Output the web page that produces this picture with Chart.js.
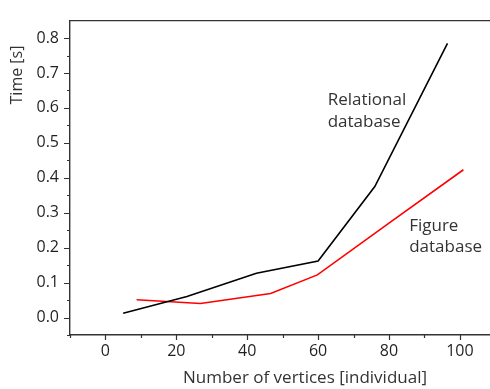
<!DOCTYPE html>
<html>
<head>
<meta charset="utf-8">
<script src="https://cdn.jsdelivr.net/npm/chart.js@4"></script>
<style>
  html, body { margin: 0; padding: 0; background: #fff; overflow: hidden; }
  #wrap { width: 490px; height: 389px; }
</style>
</head>
<body>
<div id="wrap"><canvas id="timeChart" width="490" height="389"></canvas></div>
<script>
// values
const relationalX = [5, 23, 42.6, 60, 76, 96.5];
const relationalY = [0.012, 0.06, 0.127, 0.162, 0.375, 0.785];
const figureX = [8.8, 26.8, 46.6, 59.8, 80, 101];
const figureY = [0.051, 0.040, 0.069, 0.122, 0.27, 0.423];

const xTicks = [0, 20, 40, 60, 80, 100];
const xMinorTicks = [-10, 10, 30, 50, 70, 90];
const yTicks = [0, 0.1, 0.2, 0.3, 0.4, 0.5, 0.6, 0.7, 0.8];
const yMinorTicks = [-0.05, 0.05, 0.15, 0.25, 0.35, 0.45, 0.55, 0.65, 0.75];

const xTitle = "Number of vertices [individual]";
const yTitle = "Time [s]";
// label text, anchor x, anchor y (data units)
const seriesLabels = [
    { lines: ["Relational", "database"], x: 62.7, y: 0.607 },
    { lines: ["Figure", "database"], x: 85.7, y: 0.248 }
];

const FONT = "'Open Sans', 'DejaVu Sans', sans-serif";
const AXIS_COLOR = "#333";

function toPoints(xs, ys) {
    return xs.map((x, i) => ({ x: x, y: ys[i] }));
}

// tick marks (major + minor), top frame line, titles and in-plot labels
const decorations = {
    id: "decorations",
    afterDraw(chart) {
        const ctx = chart.ctx;
        const xs = chart.scales.x, ys = chart.scales.y;
        const area = chart.chartArea;
        ctx.save();
        ctx.strokeStyle = AXIS_COLOR;
        ctx.lineWidth = 1.2;
        ctx.beginPath();
        xTicks.forEach(v => { let p = Math.round(xs.getPixelForValue(v)) + 0.5; ctx.moveTo(p, area.bottom); ctx.lineTo(p, area.bottom + 5); });
        xMinorTicks.forEach(v => { let p = Math.round(xs.getPixelForValue(v)) + 0.5; ctx.moveTo(p, area.bottom); ctx.lineTo(p, area.bottom + 3); });
        yTicks.forEach(v => { let p = Math.round(ys.getPixelForValue(v)) + 0.5; ctx.moveTo(area.left, p); ctx.lineTo(area.left - 6, p); });
        yMinorTicks.forEach(v => { let p = Math.round(ys.getPixelForValue(v)) + 0.5; ctx.moveTo(area.left, p); ctx.lineTo(area.left - 3, p); });
        ctx.stroke();

        ctx.lineWidth = 1.4;
        ctx.beginPath();
        ctx.moveTo(area.left, area.top);
        ctx.lineTo(area.right, area.top);
        ctx.stroke();

        ctx.fillStyle = "#333";
        ctx.textBaseline = "alphabetic";
        ctx.textAlign = "center";
        ctx.font = "17px " + FONT;
        ctx.fillText(xTitle, 305, 383);
        ctx.font = "16px " + FONT;
        ctx.save();
        ctx.translate(22, 75);
        ctx.rotate(-Math.PI / 2);
        ctx.fillText(yTitle, 0, 0);
        ctx.restore();

        ctx.font = "17px " + FONT;
        ctx.textAlign = "left";
        seriesLabels.forEach(lbl => {
            const px = xs.getPixelForValue(lbl.x);
            const py = ys.getPixelForValue(lbl.y);
            lbl.lines.forEach((t, i) => ctx.fillText(t, px, py + i * 21.5));
        });
        ctx.restore();
    }
};

const ctx = document.getElementById("timeChart").getContext("2d");
const timeChart = new Chart(ctx, {
    type: "scatter",
    data: {
        datasets: [
            {
                label: "Relational database",
                data: toPoints(relationalX, relationalY),
                borderColor: "#000000",
                borderWidth: 1.6,
                showLine: true,
                pointRadius: 0,
                tension: 0
            },
            {
                label: "Figure database",
                data: toPoints(figureX, figureY),
                borderColor: "#ff0000",
                borderWidth: 1.6,
                showLine: true,
                pointRadius: 0,
                tension: 0
            }
        ]
    },
    options: {
        responsive: false,
        animation: false,
        layout: { padding: { top: 10, right: 0, left: 0, bottom: 0 } },
        plugins: {
            legend: { display: false },
            tooltip: { enabled: false }
        },
        scales: {
            x: {
                type: "linear",
                min: -10,
                max: 108.5,
                afterBuildTicks: s => { s.ticks = xTicks.map(v => ({ value: v })); },
                afterFit: s => { s.height = 54; },
                grid: { display: true, drawOnChartArea: false, drawTicks: false },
                border: { display: true, color: AXIS_COLOR, width: 1.4 },
                ticks: {
                    font: { family: FONT, size: 16 },
                    color: "#231f20",
                    padding: 7,
                    maxRotation: 0,
                    autoSkip: false
                }
            },
            y: {
                type: "linear",
                min: -0.05,
                max: 0.85,
                afterBuildTicks: s => { s.ticks = yTicks.map(v => ({ value: v })); },
                afterFit: s => { s.width = 70; },
                grid: { display: true, drawOnChartArea: false, drawTicks: false },
                border: { display: true, color: AXIS_COLOR, width: 1.4 },
                ticks: {
                    font: { family: FONT, size: 16 },
                    color: "#231f20",
                    padding: 11,
                    autoSkip: false,
                    callback: v => v.toFixed(1)
                }
            }
        }
    },
    plugins: [decorations]
});
</script>
</body>
</html>
